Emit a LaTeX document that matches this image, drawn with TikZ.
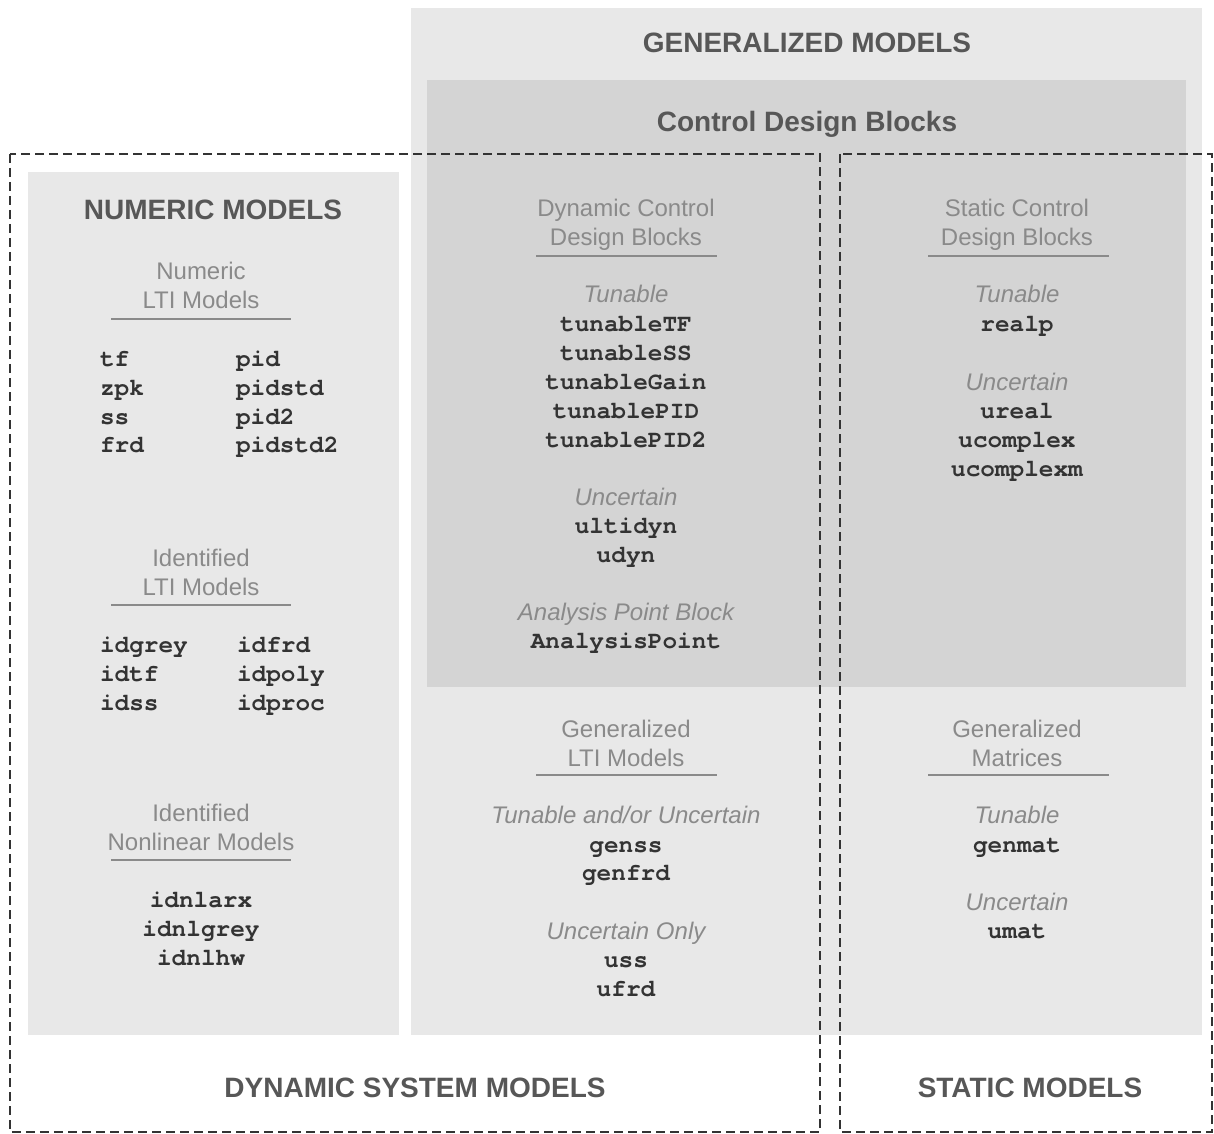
\documentclass[tikz,border=0pt]{standalone}
\usepackage{fontspec}
\setmainfont{Liberation Sans}
\newfontfamily\codefont{TeX Gyre Cursor}
\definecolor{outerfill}{HTML}{E8E8E8}
\definecolor{innerfill}{HTML}{D4D4D4}
\definecolor{headcol}{HTML}{575757}
\definecolor{subcol}{HTML}{8A8A8A}
\definecolor{codecol}{HTML}{333333}
\definecolor{dashcol}{HTML}{333333}
\begin{document}
\begin{tikzpicture}[x=0.75pt,y=-0.75pt,
  every node/.style={inner sep=0pt,outer sep=0pt,anchor=base},
  head/.style={font=\fontsize{21}{25}\selectfont\bfseries,text=headcol},
  sub/.style={font=\fontsize{18}{22}\selectfont,text=subcol},
  ital/.style={font=\fontsize{18}{22}\selectfont\itshape,text=subcol},
  code/.style={font=\fontsize{18.3}{22}\selectfont\codefont\bfseries,text=codecol},
  codel/.style={code,anchor=base west},
  rule/.style={draw=subcol,line width=1.6pt},
  dashbox/.style={draw=dashcol,line width=1.1pt,dash pattern=on 6.5pt off 4pt}]
\useasboundingbox (0,0) rectangle (1214,1134);
% boxes
\fill[outerfill] (411,8) rectangle (1202,1035);
\fill[innerfill] (427,80) rectangle (1186,687);
\fill[outerfill] (28,172) rectangle (399,1035);
% headings
\node[head] (gen) at (807,53) {GENERALIZED MODELS};
\node[head] (cdb) at (807,132) {Control Design Blocks};
\node[head] (num) at (213,220) {NUMERIC MODELS};
\node[head] (dsm) at (415,1097) {DYNAMIC SYSTEM MODELS};
\node[head] (stm) at (1030,1097) {STATIC MODELS};
% ---- left column
\node[sub] (nl1) at (201,280) {Numeric};
\node[sub] (nl2) at (201,309) {LTI Models};
\draw[rule] (111,319) -- (291,319);
\node[codel] (tf) at (100,366) {tf};
\node[codel] (zpk) at (100,395) {zpk};
\node[codel] (ss) at (100,424) {ss};
\node[codel] (frd) at (100,452) {frd};
\node[codel] (pid) at (236,366) {pid};
\node[codel] (pidstd) at (236,395) {pidstd};
\node[codel] (pid2) at (236,424) {pid2};
\node[codel] (pidstd2) at (236,452) {pidstd2};
\node[sub] (il1) at (201,566) {Identified};
\node[sub] (il2) at (201,595) {LTI Models};
\draw[rule] (111,605) -- (291,605);
\node[codel] (idgrey) at (100,652) {idgrey};
\node[codel] (idtf) at (100,681) {idtf};
\node[codel] (idss) at (100,710) {idss};
\node[codel] (idfrd) at (237,652) {idfrd};
\node[codel] (idpoly) at (237,681) {idpoly};
\node[codel] (idproc) at (237,710) {idproc};
\node[sub] (in1) at (201,821) {Identified};
\node[sub] (in2) at (201,850) {Nonlinear Models};
\draw[rule] (111,860) -- (291,860);
\node[code] (idnlarx) at (201,907) {idnlarx};
\node[code] (idnlgrey) at (201,936) {idnlgrey};
\node[code] (idnlhw) at (201,965) {idnlhw};
% ---- middle column
\node[sub] (dc1) at (626,217) {Dynamic Control};
\node[sub] (dc2) at (626,246) {Design Blocks};
\draw[rule] (536,256) -- (717,256);
\node[ital] (mt) at (626,303) {Tunable};
\node[code] (ttf) at (626,331) {tunableTF};
\node[code] (tss) at (626,360) {tunableSS};
\node[code] (tgain) at (626,389) {tunableGain};
\node[code] (tpid) at (626,418) {tunablePID};
\node[code] (tpid2) at (626,447) {tunablePID2};
\node[ital] (mu) at (626,505) {Uncertain};
\node[code] (ultidyn) at (626,533) {ultidyn};
\node[code] (udyn) at (626,562) {udyn};
\node[ital] (apb) at (626,620) {Analysis Point Block};
\node[code] (ap) at (626,648) {AnalysisPoint};
\node[sub] (gl1) at (626,737) {Generalized};
\node[sub] (gl2) at (626,766) {LTI Models};
\draw[rule] (536,775) -- (717,775);
\node[ital] (tau) at (626,823) {Tunable and/or Uncertain};
\node[code] (genss) at (626,852) {genss};
\node[code] (genfrd) at (626,880) {genfrd};
\node[ital] (uo) at (626,939) {Uncertain Only};
\node[code] (uss) at (626,967) {uss};
\node[code] (ufrd) at (626,996) {ufrd};
% ---- right column
\node[sub] (sc1) at (1017,217) {Static Control};
\node[sub] (sc2) at (1017,246) {Design Blocks};
\draw[rule] (928,256) -- (1109,256);
\node[ital] (rt) at (1017,303) {Tunable};
\node[code] (realp) at (1017,331) {realp};
\node[ital] (ru) at (1017,390) {Uncertain};
\node[code] (ureal) at (1017,418) {ureal};
\node[code] (ucomplex) at (1017,447) {ucomplex};
\node[code] (ucomplexm) at (1017,476) {ucomplexm};
\node[sub] (gm1) at (1017,737) {Generalized};
\node[sub] (gm2) at (1017,766) {Matrices};
\draw[rule] (928,775) -- (1109,775);
\node[ital] (rt2) at (1017,823) {Tunable};
\node[code] (genmat) at (1017,852) {genmat};
\node[ital] (ru2) at (1017,910) {Uncertain};
\node[code] (umat) at (1017,938) {umat};
% dashed regions
\draw[dashbox] (10,154) rectangle (820,1132);
\draw[dashbox] (840,154) rectangle (1212,1132);
\end{tikzpicture}
\end{document}
